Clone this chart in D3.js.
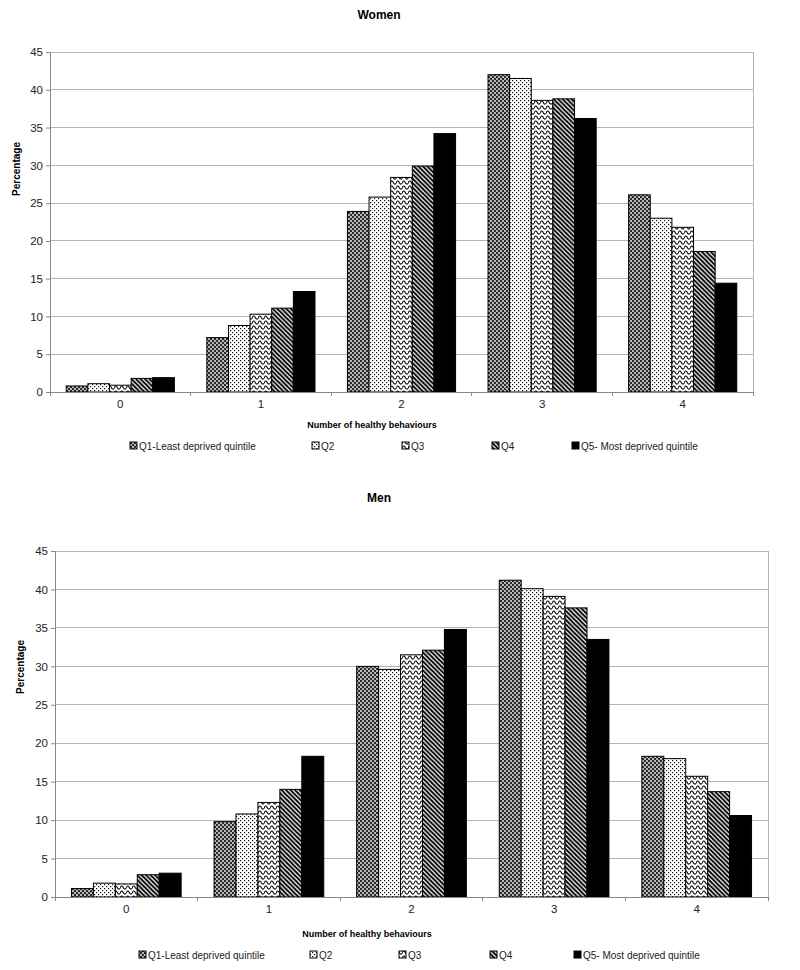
<!DOCTYPE html>
<html><head><meta charset="utf-8">
<script src="https://cdn.jsdelivr.net/npm/d3@7"></script>
<style>body{margin:0;background:#fff}svg{display:block}text{font-family:"Liberation Sans",Arial,sans-serif}</style>
</head><body>
<svg id="c" width="800" height="970"></svg>
<script>
const categories = ["0","1","2","3","4"];
const seriesNames = ["Q1-Least deprived quintile","Q2","Q3","Q4","Q5- Most deprived quintile"];
const yTicks = [0,5,10,15,20,25,30,35,40,45];
// values[series][category]
const women = [
  [0.8, 7.2, 23.9, 42.0, 26.1],
  [1.1, 8.8, 25.8, 41.5, 23.0],
  [0.9, 10.3, 28.4, 38.6, 21.8],
  [1.8, 11.1, 29.9, 38.8, 18.6],
  [1.9, 13.3, 34.2, 36.2, 14.4]
];
const men = [
  [1.1, 9.8, 30.0, 41.2, 18.3],
  [1.8, 10.8, 29.6, 40.1, 18.0],
  [1.7, 12.3, 31.5, 39.1, 15.7],
  [2.9, 14.0, 32.1, 37.6, 13.7],
  [3.1, 18.3, 34.8, 33.5, 10.6]
];

const svg = d3.select("#c");
const defs = svg.append("defs");
function pat(id, w, h, build){
  const p = defs.append("pattern").attr("id", id).attr("patternUnits","userSpaceOnUse").attr("width", w).attr("height", h);
  build(p);
}
pat("p0", 4, 4, p => {
  p.append("rect").attr("width",4).attr("height",4).attr("fill","#b8b8b8");
  p.append("rect").attr("x",0).attr("y",0).attr("width",2).attr("height",2).attr("fill","#2a2a2a");
  p.append("rect").attr("x",2).attr("y",2).attr("width",2).attr("height",2).attr("fill","#2a2a2a");
});
pat("p1", 4, 4, p => {
  p.append("rect").attr("width",4).attr("height",4).attr("fill","#fff");
  p.append("rect").attr("x",0).attr("y",0).attr("width",1.2).attr("height",1.2).attr("fill","#111");
  p.append("rect").attr("x",2).attr("y",2).attr("width",1.2).attr("height",1.2).attr("fill","#111");
});
pat("p2", 6, 5, p => {
  p.append("rect").attr("width",6).attr("height",5).attr("fill","#fff");
  p.append("path").attr("d","M0,3.5 C1,0.5 2,0.5 3,2 C4,4.5 5,4.5 6,3.5").attr("fill","none").attr("stroke","#111").attr("stroke-width",1.2);
});
pat("p3", 4.5, 4.5, p => {
  p.append("rect").attr("width",4.5).attr("height",4.5).attr("fill","#fff");
  p.append("path").attr("d","M-1,-1 L5.5,5.5 M-1,3.5 L1,5.5 M3.5,-1 L5.5,1").attr("stroke","#000").attr("stroke-width",1.9);
});
const fills = ["url(#p0)","url(#p1)","url(#p2)","url(#p3)","#000"];

function drawChart(cfg){
  const {data, title, titleY, left, right, top, bottom, catY, xTitle, xTitleY, xTitleX, yTitleX, yTitleY, legendY, legendX} = cfg;
  const g = svg.append("g");
  const x = d3.scaleBand().domain(categories).range([left, right]).paddingInner(0).paddingOuter(0);
  const y = d3.scaleLinear().domain([0,45]).range([bottom, top]);
  const bw = x.bandwidth()/6.5;
  const xs = d3.scaleBand().domain(d3.range(5)).range([bw*0.75, x.bandwidth()-bw*0.75]).padding(0);

  g.append("g").selectAll("line").data(yTicks.filter(t=>t>0)).join("line")
    .attr("x1", left).attr("x2", right).attr("y1", d=>y(d)).attr("y2", d=>y(d))
    .attr("stroke","#b4b4b4").attr("stroke-width",1).attr("shape-rendering","crispEdges");
  g.append("line").attr("x1",right).attr("x2",right).attr("y1",top).attr("y2",bottom)
    .attr("stroke","#b4b4b4").attr("shape-rendering","crispEdges");

  data.forEach((vals, si) => {
    g.append("g").selectAll("rect").data(vals).join("rect")
      .attr("x", (d,i)=> x(categories[i]) + xs(si))
      .attr("width", xs.bandwidth())
      .attr("y", d=> y(d))
      .attr("height", d=> y(0)-y(d))
      .attr("fill", fills[si])
      .attr("stroke","#000").attr("stroke-width",1);
  });

  const ya = g.append("g").attr("transform",`translate(${left},0)`)
    .call(d3.axisLeft(y).tickValues(yTicks).tickSize(4).tickPadding(3));
  ya.select(".domain").attr("stroke","#888");
  ya.selectAll(".tick line").attr("stroke","#888");
  ya.selectAll("text").attr("font-size",11.5).attr("fill","#222").style("font-family","'Liberation Sans',Arial,sans-serif");

  const xa = g.append("g").attr("transform",`translate(0,${bottom})`)
    .call(d3.axisBottom(x).tickSize(0).tickPadding(catY - bottom - 8));
  xa.select(".domain").attr("stroke","#888");
  xa.selectAll("text").attr("font-size",11.5).attr("fill","#222").style("font-family","'Liberation Sans',Arial,sans-serif");
  g.append("g").selectAll("line").data(d3.range(categories.length+1)).join("line")
    .attr("x1", i=> left + i*x.step()).attr("x2", i=> left + i*x.step())
    .attr("y1", bottom).attr("y2", bottom+4).attr("stroke","#888").attr("shape-rendering","crispEdges");

  g.append("text").attr("x", 379).attr("y", titleY).attr("text-anchor","middle")
    .attr("font-size",12).attr("font-weight","bold").attr("fill","#000").text(title);
  g.append("text").attr("x", xTitleX).attr("y", xTitleY).attr("text-anchor","middle")
    .attr("font-size",9).attr("font-weight","bold").attr("fill","#000").text(xTitle);
  g.append("text").attr("transform",`translate(${yTitleX},${yTitleY}) rotate(-90)`).attr("text-anchor","middle")
    .attr("font-size",10).attr("font-weight","bold").attr("fill","#000").text("Percentage");

  const lg = g.append("g");
  seriesNames.forEach((name, si) => {
    const lx = legendX[si];
    lg.append("rect").attr("x", lx).attr("y", legendY-4).attr("width",7).attr("height",7)
      .attr("fill", fills[si]).attr("stroke","#000").attr("stroke-width",1);
    lg.append("text").attr("x", lx+9).attr("y", legendY+3.5).attr("font-size",10).attr("fill","#222").text(name);
  });
}

drawChart({data: women, title: "Women", titleY: 19, left: 50, right: 753, top: 52, bottom: 392,
  catY: 408, xTitle: "Number of healthy behaviours", xTitleY: 428, xTitleX: 372,
  yTitleX: 20, yTitleY: 169, legendY: 446, legendX: [130, 312, 402, 492, 572]});
drawChart({data: men, title: "Men", titleY: 502, left: 55, right: 768, top: 551, bottom: 897,
  catY: 913, xTitle: "Number of healthy behaviours", xTitleY: 937, xTitleX: 367,
  yTitleX: 24, yTitleY: 667, legendY: 955, legendX: [139, 310, 399, 490, 574]});
</script>
</body></html>
